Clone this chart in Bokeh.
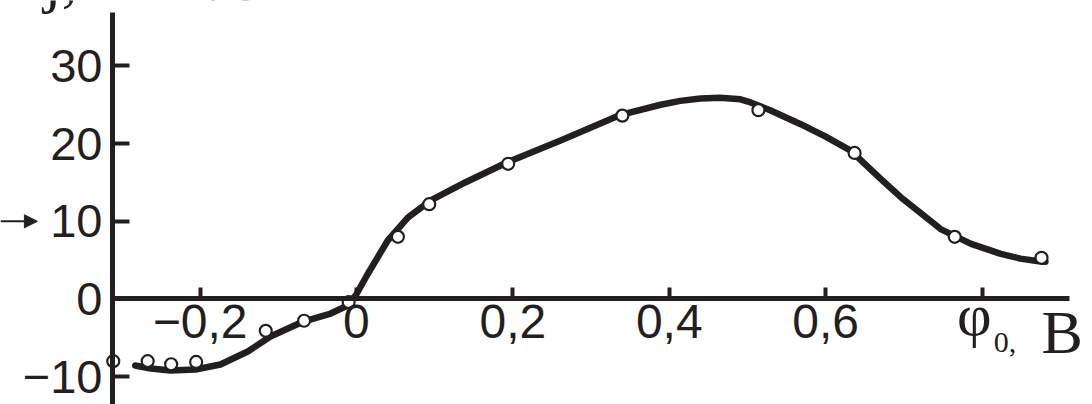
from bokeh.plotting import figure
from bokeh.models import (Range1d, LinearAxis, FixedTicker, Label, Arrow,
                          NormalHead, ColumnDataSource)
from bokeh.embed import file_html
from bokeh.resources import INLINE

# measured points: potential (V) vs current density
pt_phi = [-0.311, -0.267, -0.237, -0.205, -0.116, -0.067, -0.010, 0.053,
          0.093, 0.194, 0.340, 0.514, 0.637, 0.765, 0.876]
pt_j = [-8.0, -8.0, -8.4, -8.1, -4.1, -2.8, -0.4, 8.0,
        12.2, 17.4, 23.6, 24.3, 18.8, 8.0, 5.3]

# smoothed curve through the measurements
curve_phi = [-0.283, -0.263, -0.238, -0.206, -0.174, -0.139, -0.110, -0.068,
             -0.033, -0.014, -0.001, 0.014, 0.040, 0.066, 0.095, 0.139,
             0.193, 0.261, 0.338, 0.389, 0.414, 0.440, 0.465, 0.491, 0.504,
             0.529, 0.568, 0.600, 0.632, 0.670, 0.696, 0.721, 0.747, 0.786,
             0.824, 0.849, 0.870, 0.881]
curve_j = [-8.56, -8.94, -9.20, -9.07, -8.43, -6.76, -4.83, -2.90,
           -1.87, -0.97, 0.45, 3.15, 7.53, 10.5, 12.7, 15.0,
           17.6, 20.4, 23.7, 25.0, 25.5, 25.8, 25.9, 25.7, 25.3,
           24.3, 22.5, 20.9, 19.1, 15.5, 13.1, 11.1, 9.0, 7.1,
           5.8, 5.2, 4.9, 4.8]

x_ticks = [-0.2, 0.0, 0.2, 0.4, 0.6, 0.8]
x_tick_labels = {-0.2: "\u22120,2", 0.0: "0", 0.2: "0,2", 0.4: "0,4",
                 0.6: "0,6", 0.8: ""}
y_ticks = [-10, 0, 10, 20, 30]
y_tick_labels = {-10: "\u221210", 0: "0", 10: "10", 20: "20", 30: "30"}

INK = "#231f20"
NUM_FONT = "Liberation Sans"
SERIF = "Liberation Serif"

X_LO, X_HI = -0.312, 0.9118   # extent of the drawn horizontal axis
Y_LO, Y_HI = -13.58, 36.87    # extent of the drawn vertical axis

p = figure(width=1092, height=404, output_backend="svg", toolbar_location=None,
           x_range=Range1d(-0.4552, 0.9412), y_range=Range1d(-13.58, 38.42),
           x_axis_location=None, y_axis_location=None,
           min_border_left=0, min_border_right=0,
           min_border_top=0, min_border_bottom=0)
p.outline_line_color = None
p.grid.visible = False
p.background_fill_color = "white"
p.border_fill_color = "white"

# vertical axis
yax = LinearAxis(ticker=FixedTicker(ticks=y_ticks), fixed_location=X_LO,
                 bounds=(Y_LO, Y_HI))
yax.major_label_overrides = y_tick_labels
yax.axis_line_width = 5
yax.axis_line_color = INK
yax.major_tick_in = 17
yax.major_tick_out = 0
yax.major_tick_line_width = 4
yax.major_tick_line_color = INK
yax.minor_tick_line_color = None
yax.major_label_standoff = 10
yax.major_label_text_font = NUM_FONT
yax.major_label_text_font_size = "47px"
yax.major_label_text_color = INK
p.add_layout(yax, "left")

# horizontal axis crossing at j = 0
xax = LinearAxis(ticker=FixedTicker(ticks=x_ticks), fixed_location=0,
                 bounds=(X_LO, X_HI))
xax.major_label_overrides = x_tick_labels
xax.axis_line_width = 5
xax.axis_line_color = INK
xax.major_tick_in = 11
xax.major_tick_out = 0
xax.major_tick_line_width = 4
xax.major_tick_line_color = INK
xax.minor_tick_line_color = None
xax.major_label_standoff = 6
xax.major_label_text_font = NUM_FONT
xax.major_label_text_font_size = "48px"
xax.major_label_text_color = INK
p.add_layout(xax, "below")

curve = ColumnDataSource(dict(x=curve_phi, y=curve_j))
p.line("x", "y", source=curve, line_width=6.5, line_color=INK,
       line_join="round", line_cap="round")

pts = ColumnDataSource(dict(x=pt_phi, y=pt_j))
p.scatter("x", "y", source=pts, size=12, marker="circle",
          fill_color="white", line_color=INK, line_width=2.2)

# axis captions
p.add_layout(Label(x=-0.400, y=41.3, text="j, мкА/см²", text_font=SERIF,
                   text_font_size="64px", text_color=INK,
                   text_baseline="middle"))
p.add_layout(Label(x=0.768, y=-2.0, text="φ", text_font=SERIF,
                   text_font_size="60px", text_color=INK,
                   text_baseline="middle"))
p.add_layout(Label(x=0.815, y=-5.6, text="0,", text_font=SERIF,
                   text_font_size="30px", text_color=INK,
                   text_baseline="middle"))
p.add_layout(Label(x=0.876, y=-4.3, text="B", text_font=SERIF,
                   text_font_size="62px", text_color=INK,
                   text_baseline="middle"))

# pointer to the 10 mark
p.add_layout(Arrow(x_start=-0.4552, y_start=10, x_end=-0.408, y_end=10,
                   line_width=2, line_color=INK,
                   end=NormalHead(size=13, fill_color=INK, line_color=INK)))

open("out.html", "w").write(file_html(p, INLINE))
